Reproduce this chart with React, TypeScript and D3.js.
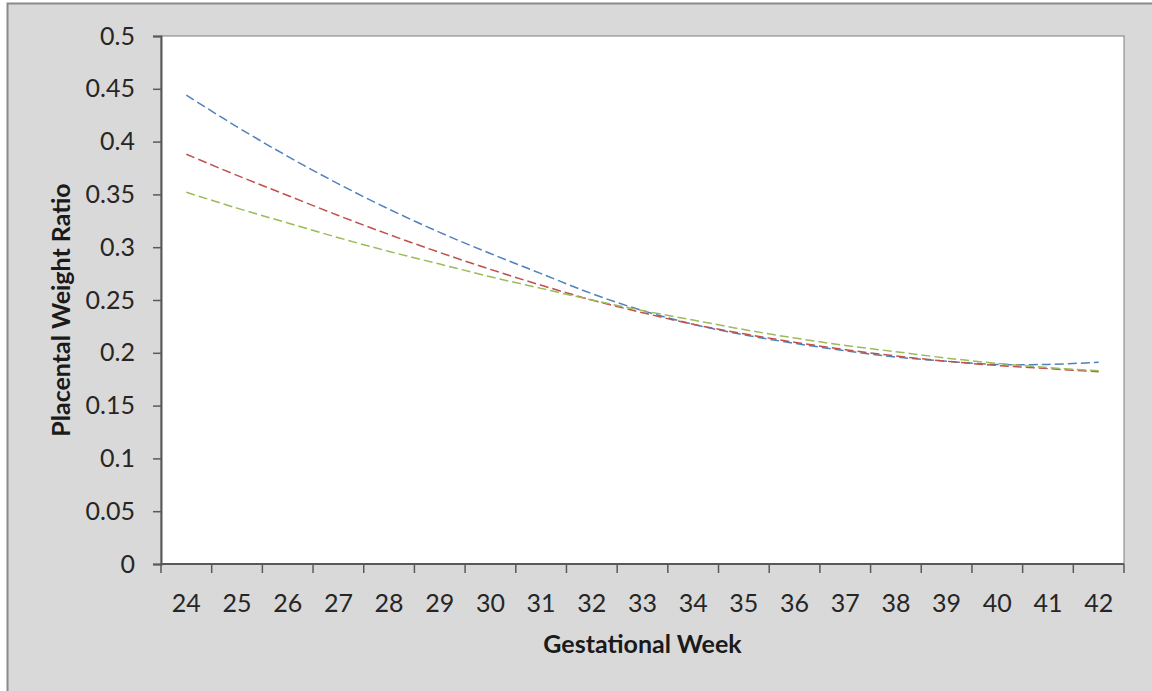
import * as d3 from "d3";
import { useEffect, useRef } from "react";

const weeks = [24, 25, 26, 27, 28, 29, 30, 31, 32, 33, 34, 35, 36, 37, 38, 39, 40, 41, 42];
const blueSeries = [0.444, 0.414, 0.386, 0.36, 0.336, 0.314, 0.294, 0.275, 0.256, 0.24, 0.227, 0.217, 0.209, 0.202, 0.196, 0.192, 0.189, 0.189, 0.191];
const redSeries = [0.388, 0.368, 0.349, 0.33, 0.312, 0.295, 0.279, 0.264, 0.25, 0.238, 0.227, 0.218, 0.21, 0.203, 0.197, 0.192, 0.188, 0.185, 0.182];
const greenSeries = [0.352, 0.337, 0.323, 0.309, 0.296, 0.284, 0.272, 0.261, 0.25, 0.24, 0.231, 0.222, 0.214, 0.207, 0.201, 0.195, 0.19, 0.186, 0.183];
const yTicks = [0, 0.05, 0.1, 0.15, 0.2, 0.25, 0.3, 0.35, 0.4, 0.45, 0.5];

export default function App() {
  const ref = useRef<SVGSVGElement>(null);

  useEffect(() => {
    const svg = d3.select(ref.current);
    svg.selectAll("*").remove();

    const W = 1152;
    const H = 691;
    const margin = { top: 36, right: 28, bottom: 127, left: 161 };
    const width = W - margin.left - margin.right;
    const height = H - margin.top - margin.bottom;
    const font = "Lato, 'Open Sans', sans-serif";

    // gray chart area with frame
    svg
      .append("rect")
      .attr("x", 7.5)
      .attr("y", 3.5)
      .attr("width", W)
      .attr("height", H)
      .attr("fill", "#d9d9d9")
      .attr("stroke", "#8a8a8a")
      .attr("stroke-width", 2);

    const g = svg.append("g").attr("transform", `translate(${margin.left},${margin.top})`);

    g.append("rect")
      .attr("width", width)
      .attr("height", height)
      .attr("fill", "#ffffff")
      .attr("stroke", "#7f7f7f")
      .attr("stroke-width", 1);

    const x = d3.scaleBand<number>().domain(weeks).range([0, width]).padding(0);
    const y = d3.scaleLinear().domain([0, 0.5]).range([height, 0]);

    // y axis
    const yAxis = g
      .append("g")
      .call(d3.axisLeft(y).tickValues(yTicks).tickSize(8).tickPadding(18).tickFormat((d) => String(+d)));
    yAxis.select(".domain").attr("stroke", "#595959").attr("stroke-width", 2);
    yAxis.selectAll(".tick line").attr("stroke", "#595959").attr("stroke-width", 1.5);
    yAxis
      .selectAll(".tick text")
      .attr("font-family", font)
      .attr("font-size", 25)
      .attr("fill", "#262626");

    // x axis (ticks between categories)
    const xAxis = g.append("g").attr("transform", `translate(0,${height})`);
    xAxis
      .append("line")
      .attr("x1", 0)
      .attr("x2", width)
      .attr("stroke", "#595959")
      .attr("stroke-width", 2);
    const bounds = d3.range(weeks.length + 1).map((i) => i * x.step());
    xAxis
      .selectAll("line.tick")
      .data(bounds)
      .enter()
      .append("line")
      .attr("class", "tick")
      .attr("x1", (d) => d)
      .attr("x2", (d) => d)
      .attr("y1", 0)
      .attr("y2", 9)
      .attr("stroke", "#595959")
      .attr("stroke-width", 1.5);
    xAxis
      .selectAll("text")
      .data(weeks)
      .enter()
      .append("text")
      .attr("x", (d) => (x(d) as number) + x.bandwidth() / 2)
      .attr("y", 48)
      .attr("text-anchor", "middle")
      .attr("font-family", font)
      .attr("font-size", 25)
      .attr("fill", "#262626")
      .text((d) => d);

    // axis titles
    g.append("text")
      .attr("x", width / 2)
      .attr("y", height + 89)
      .attr("text-anchor", "middle")
      .attr("font-family", font)
      .attr("font-weight", "bold")
      .attr("font-size", 25)
      .attr("fill", "#1a1a1a")
      .text("Gestational Week");

    g.append("text")
      .attr("transform", `translate(-91,${height / 2 + 10}) rotate(-90)`)
      .attr("text-anchor", "middle")
      .attr("font-family", font)
      .attr("font-weight", "bold")
      .attr("font-size", 25)
      .attr("fill", "#1a1a1a")
      .text("Placental Weight Ratio");

    // dashed series lines
    const series = [
      { values: blueSeries, color: "#4f81bd" },
      { values: redSeries, color: "#c0504d" },
      { values: greenSeries, color: "#9bbb59" },
    ];
    const line = d3
      .line<number>()
      .x((d, i) => (x(weeks[i]) as number) + x.bandwidth() / 2)
      .y((d) => y(d))
      .curve(d3.curveCatmullRom);

    series.forEach((s) => {
      g.append("path")
        .datum(s.values)
        .attr("d", line)
        .attr("fill", "none")
        .attr("stroke", s.color)
        .attr("stroke-width", 1.5)
        .attr("stroke-dasharray", "9,4");
    });
  }, []);

  return (
    <svg
      ref={ref}
      width={1152}
      height={691}
      style={{ position: "absolute", left: 0, top: 0, display: "block" }}
    />
  );
}
